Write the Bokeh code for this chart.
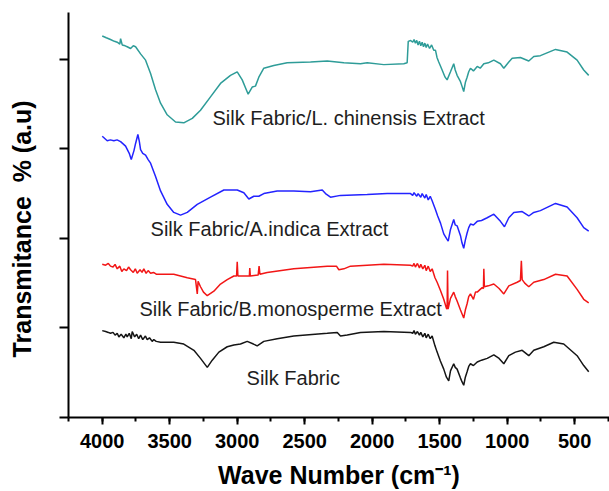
from bokeh.plotting import figure
from bokeh.models import Range1d, SingleIntervalTicker, FixedTicker, ColumnDataSource
from bokeh.core.properties import value
from bokeh.embed import file_html
from bokeh.resources import INLINE

# ---- data (wavenumber in cm-1, transmittance in arbitrary offset units) ----
lch_wn = [4000, 3970, 3939, 3910, 3889, 3870, 3864, 3852, 3830, 3815, 3790, 3770, 3753, 3716, 3679,
          3642, 3605, 3568, 3519, 3457, 3396, 3333, 3272, 3198, 3124, 3050, 3000, 2963, 2919, 2889,
          2865, 2840, 2803, 2729, 2630, 2457, 2333, 2210, 2087, 2037, 1914, 1766, 1741, 1733, 1715,
          1700, 1690, 1680, 1670, 1660, 1650, 1640, 1630, 1620, 1610, 1600, 1590, 1575, 1560, 1544,
          1531, 1520, 1507, 1482, 1460, 1445, 1420, 1396, 1385, 1371, 1346, 1335, 1322, 1310, 1297,
          1285, 1272, 1250, 1222, 1200, 1173, 1140, 1099, 1050, 1025, 988, 963, 902, 840, 803, 754,
          642, 556, 482, 433, 396]
lch_y = [4.26, 4.24, 4.22, 4.20, 4.19, 4.17, 4.23, 4.16, 4.15, 4.14, 4.12, 4.15, 4.14, 4.06, 3.99,
         3.84, 3.66, 3.51, 3.38, 3.30, 3.29, 3.34, 3.43, 3.58, 3.73, 3.82, 3.86, 3.77, 3.61, 3.69,
         3.70, 3.80, 3.90, 3.93, 3.96, 3.97, 3.98, 3.96, 3.95, 3.96, 3.94, 3.95, 3.96, 4.20, 4.21,
         4.19, 4.22, 4.18, 4.21, 4.16, 4.20, 4.15, 4.19, 4.14, 4.18, 4.13, 4.17, 4.12, 4.16, 4.10,
         4.10, 4.02, 3.97, 3.88, 3.80, 3.77, 3.86, 3.95, 3.88, 3.82, 3.75, 3.70, 3.64, 3.74, 3.80,
         3.86, 3.90, 3.87, 3.92, 3.90, 3.95, 3.96, 3.99, 3.95, 3.90, 3.97, 4.01, 4.02, 3.98, 4.03, 4.04,
         4.11, 4.08, 3.99, 3.88, 3.82]

ain_wn = [4000, 3963, 3940, 3914, 3890, 3864, 3827, 3800, 3785, 3765, 3753, 3736, 3725, 3716, 3700,
          3679, 3660, 3642, 3605, 3568, 3519, 3470, 3420, 3370, 3296, 3198, 3099, 3000, 2951, 2914,
          2877, 2840, 2803, 2704, 2581, 2457, 2370, 2346, 2309, 2235, 2037, 1889, 1716, 1700, 1690,
          1670, 1660, 1640, 1630, 1610, 1600, 1585, 1570, 1556, 1531, 1515, 1494, 1470, 1450, 1437,
          1420, 1396, 1385, 1371, 1346, 1335, 1322, 1310, 1297, 1285, 1272, 1250, 1222, 1190, 1148,
          1099, 1050, 1020, 988, 951, 889, 840, 803, 754, 642, 556, 482, 433, 396]
ain_y = [3.14, 3.09, 3.10, 3.09, 3.10, 3.08, 3.03, 2.95, 2.88, 2.98, 3.06, 3.16, 3.08, 2.99, 2.95,
         2.93, 2.88, 2.84, 2.69, 2.53, 2.38, 2.29, 2.26, 2.29, 2.38, 2.46, 2.54, 2.54, 2.51, 2.44,
         2.47, 2.47, 2.50, 2.53, 2.53, 2.52, 2.54, 2.50, 2.46, 2.48, 2.49, 2.50, 2.50, 2.48, 2.51,
         2.47, 2.50, 2.46, 2.50, 2.45, 2.49, 2.43, 2.47, 2.42, 2.32, 2.25, 2.17, 2.05, 2.00, 1.97,
         2.10, 2.21, 2.15, 2.14, 2.03, 1.95, 1.89, 1.98, 2.06, 2.12, 2.16, 2.15, 2.19, 2.20, 2.23,
         2.27, 2.19, 2.13, 2.23, 2.29, 2.30, 2.25, 2.29, 2.31, 2.39, 2.35, 2.23, 2.12, 2.08]

bmo_wn = [4000, 3975, 3955, 3939, 3920, 3905, 3889, 3870, 3855, 3840, 3820, 3805, 3790, 3770, 3755,
          3741, 3720, 3705, 3692, 3675, 3660, 3642, 3620, 3600, 3568, 3520, 3470, 3420, 3370, 3309,
          3296, 3290, 3272, 3250, 3222, 3173, 3124, 3074, 3025, 3005, 3000, 2995, 2926, 2910, 2907,
          2903, 2845, 2838, 2832, 2778, 2581, 2333, 2265, 2247, 2210, 2161, 1914, 1716, 1700, 1690,
          1680, 1665, 1650, 1640, 1625, 1610, 1600, 1585, 1570, 1556, 1535, 1519, 1495, 1470, 1450,
          1445, 1442, 1438, 1420, 1396, 1385, 1371, 1346, 1322, 1310, 1297, 1285, 1272, 1250, 1235,
          1222, 1200, 1185, 1176, 1173, 1169, 1140, 1099, 1060, 1025, 988, 926, 902, 895, 889, 870,
          840, 803, 729, 642, 556, 482, 433, 396]
bmo_y = [1.71, 1.70, 1.72, 1.69, 1.68, 1.71, 1.66, 1.69, 1.63, 1.66, 1.64, 1.68, 1.65, 1.62, 1.66,
         1.61, 1.65, 1.62, 1.66, 1.61, 1.64, 1.61, 1.62, 1.60, 1.60, 1.60, 1.60, 1.58, 1.56, 1.54,
         1.38, 1.52, 1.46, 1.40, 1.36, 1.41, 1.49, 1.54, 1.58, 1.58, 1.74, 1.58, 1.58, 1.58, 1.67,
         1.58, 1.59, 1.69, 1.60, 1.62, 1.66, 1.69, 1.69, 1.65, 1.66, 1.69, 1.71, 1.70, 1.69, 1.72,
         1.68, 1.72, 1.67, 1.71, 1.66, 1.70, 1.64, 1.69, 1.63, 1.66, 1.56, 1.51, 1.42, 1.32, 1.22,
         1.21, 1.64, 1.21, 1.33, 1.40, 1.35, 1.30, 1.20, 1.11, 1.20, 1.27, 1.35, 1.38, 1.32, 1.40,
         1.40, 1.43, 1.45, 1.44, 1.66, 1.46, 1.47, 1.49, 1.44, 1.38, 1.47, 1.51, 1.53, 1.75, 1.54, 1.50,
         1.46, 1.51, 1.54, 1.60, 1.58, 1.43, 1.32, 1.28]

silk_wn = [4000, 3975, 3955, 3939, 3920, 3905, 3889, 3877, 3860, 3840, 3825, 3815, 3800, 3785, 3778,
           3760, 3745, 3730, 3716, 3700, 3680, 3667, 3650, 3630, 3618, 3600, 3568, 3470, 3396, 3321,
           3272, 3222, 3185, 3136, 3074, 3025, 2976, 2926, 2880, 2852, 2803, 2704, 2581, 2333, 2259,
           2235, 2185, 2087, 1914, 1716, 1700, 1690, 1680, 1665, 1650, 1640, 1625, 1610, 1600, 1585,
           1570, 1556, 1535, 1519, 1495, 1470, 1450, 1433, 1420, 1396, 1385, 1371, 1346, 1335, 1322,
           1310, 1297, 1285, 1272, 1250, 1222, 1190, 1148, 1099, 1060, 1025, 988, 939, 889, 840, 803,
           729, 655, 581, 482, 433, 396]
silk_y = [0.97, 0.96, 0.95, 0.94, 0.95, 0.92, 0.94, 0.90, 0.93, 0.89, 0.93, 0.90, 0.94, 0.88, 0.96,
          0.90, 0.93, 0.88, 0.92, 0.87, 0.91, 0.87, 0.89, 0.85, 0.87, 0.85, 0.84, 0.84, 0.82, 0.75,
          0.66, 0.56, 0.64, 0.73, 0.79, 0.81, 0.82, 0.85, 0.82, 0.80, 0.85, 0.88, 0.91, 0.94, 0.95,
          0.91, 0.92, 0.95, 0.96, 0.95, 0.94, 0.97, 0.93, 0.96, 0.92, 0.95, 0.90, 0.94, 0.89, 0.93,
          0.88, 0.91, 0.80, 0.73, 0.63, 0.54, 0.45, 0.41, 0.52, 0.60, 0.56, 0.54, 0.44, 0.40, 0.36,
          0.45, 0.51, 0.57, 0.60, 0.58, 0.62, 0.64, 0.66, 0.70, 0.66, 0.60, 0.69, 0.73, 0.75, 0.69, 0.75,
          0.79, 0.84, 0.82, 0.69, 0.58, 0.51]

label_texts = ["Silk Fabric/L. chinensis Extract", "Silk Fabric/A.indica Extract",
               "Silk Fabric/B.monosperme Extract", "Silk Fabric"]
label_wn = [3183, 3642, 3724, 2931]
label_y = [3.34, 2.10, 1.21, 0.44]

x_ticks_interval = 500
y_ticks = [0, 1, 2, 3, 4]

FONT = "Liberation Sans"

p = figure(width=609, height=491, output_backend="svg", toolbar_location=None,
           x_range=Range1d(4250, 242), y_range=Range1d(0, 4.522),
           min_border_left=68, min_border_right=0, min_border_top=12, min_border_bottom=72,
           background_fill_color="white", border_fill_color="white")
p.outline_line_color = None
p.grid.visible = False

series = [
    (lch_wn, lch_y, "#2E9C98"),
    (ain_wn, ain_y, "#2323FF"),
    (bmo_wn, bmo_y, "#F21616"),
    (silk_wn, silk_y, "#151515"),
]
for xs, ys, c in series:
    p.line(xs, ys, line_color=c, line_width=1.5)

src = ColumnDataSource(dict(x=label_wn, y=label_y, t=label_texts))
p.text(x="x", y="y", text="t", source=src, text_font=value(FONT), text_font_size="20px",
       text_color="#1e1e1e", text_align="left", text_baseline="middle")

# x axis
xa = p.xaxis[0]
xa.ticker = SingleIntervalTicker(interval=x_ticks_interval, num_minor_ticks=2)
xa.axis_label = "Wave Number (cm\u207b\u00b9)"
xa.axis_label_text_font = FONT
xa.axis_label_text_font_style = "bold"
xa.axis_label_text_font_size = "25px"
xa.axis_label_text_color = "black"
xa.axis_label_standoff = 10
xa.major_label_text_font = FONT
xa.major_label_text_font_style = "bold"
xa.major_label_text_font_size = "20px"
xa.major_label_text_color = "black"
xa.major_label_standoff = 9
xa.axis_line_width = 2
xa.major_tick_line_width = 2
xa.minor_tick_line_width = 2
xa.major_tick_in = 0
xa.major_tick_out = 7
xa.minor_tick_in = 0
xa.minor_tick_out = 4

# y axis (ticks only, no tick labels)
ya = p.yaxis[0]
ya.ticker = FixedTicker(ticks=y_ticks, minor_ticks=[])
ya.axis_label = "Transmitance\u00a0 % (a.u)\u00a0\u00a0\u00a0\u00a0"
ya.axis_label_text_font = FONT
ya.axis_label_text_font_style = "bold"
ya.axis_label_text_font_size = "25px"
ya.axis_label_text_color = "black"
ya.axis_label_standoff = 24
ya.major_label_overrides = {t: "" for t in y_ticks}
ya.major_label_text_color = None
ya.major_label_standoff = 0
ya.axis_line_width = 2
ya.major_tick_line_width = 2
ya.major_tick_in = 0
ya.major_tick_out = 9

open("out.html", "w").write(file_html(p, INLINE))
